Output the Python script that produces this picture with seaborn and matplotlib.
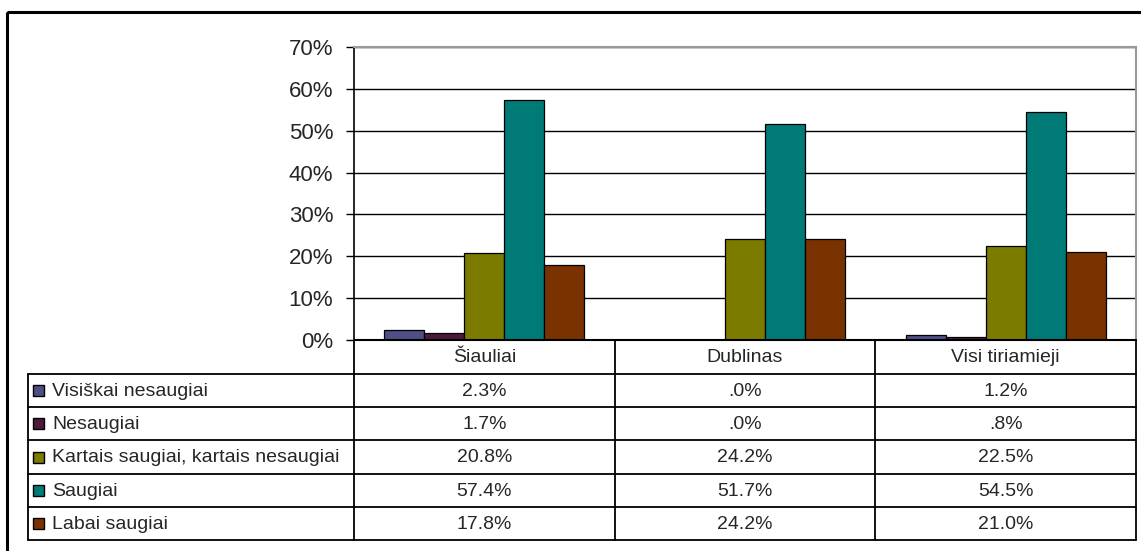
import pandas as pd
import numpy as np
import matplotlib
matplotlib.use('Agg')
import matplotlib.pyplot as plt
from matplotlib.patches import Rectangle
import seaborn as sns

# data
vietos = ['Šiauliai', 'Dublinas', 'Visi tiriamieji']
atsakymai = ['Visiškai nesaugiai', 'Nesaugiai', 'Kartais saugiai, kartais nesaugiai',
             'Saugiai', 'Labai saugiai']
visiskai_nesaugiai = [2.3, 0.0, 1.2]
nesaugiai = [1.7, 0.0, 0.8]
kartais = [20.8, 24.2, 22.5]
saugiai = [57.4, 51.7, 54.5]
labai_saugiai = [17.8, 24.2, 21.0]
spalvos = ['#4f4f86', '#4d1a3a', '#7b7b00', '#007a77', '#7a3200']
y_ticks = [0, 10, 20, 30, 40, 50, 60, 70]

series = [visiskai_nesaugiai, nesaugiai, kartais, saugiai, labai_saugiai]
rows = []
for ats, vals in zip(atsakymai, series):
    for v, val in zip(vietos, vals):
        rows.append({'vieta': v, 'atsakymas': ats, 'proc': val})
df = pd.DataFrame(rows)

sns.set_style('white')
plt.rcParams['font.family'] = ['Liberation Sans', 'DejaVu Sans']

W, H = 1141, 551
fig = plt.figure(figsize=(W / 100, H / 100), dpi=100)

# plot area in pixels
px_l, px_r, px_t, px_b = 354, 1136, 47, 340
ax = fig.add_axes([px_l / W, 1 - px_b / H, (px_r - px_l) / W, (px_b - px_t) / H])

sns.barplot(data=df, x='vieta', y='proc', hue='atsakymas', hue_order=atsakymai,
            order=vietos, palette=spalvos, saturation=1, width=0.767,
            edgecolor='black', linewidth=0.9, legend=False, ax=ax, zorder=3)

ax.set_ylim(0, 70)
ax.set_xlim(-0.5, len(vietos) - 0.5)
ax.set_yticks(y_ticks)
ax.set_yticklabels([f'{t}%' for t in y_ticks], fontsize=16)
ax.set_xticks([])
ax.set_xlabel('')
ax.set_ylabel('')
ax.yaxis.grid(True, color='black', linewidth=1, zorder=0)
ax.set_axisbelow(True)
ax.tick_params(axis='y', direction='out', length=6, width=1, color='black', pad=9,
               left=True)
ax.spines['left'].set_color('black')
ax.spines['left'].set_linewidth(1.2)
ax.spines['top'].set_color('#999999')
ax.spines['right'].set_color('#999999')
ax.spines['top'].set_linewidth(1.5)
ax.spines['right'].set_linewidth(1.5)
ax.spines['bottom'].set_visible(False)

# overlay in pixel coordinates for the data table and frame
ov = fig.add_axes([0, 0, 1, 1], zorder=5)
ov.set_xlim(0, W)
ov.set_ylim(H, 0)
ov.axis('off')

def fmt(v):
    s = f'{v:.1f}%'
    if s.startswith('0'):
        s = s[1:]
    return s

lc = 'black'
tab_l = 28
head_t, head_b = 340, 374
tab_b = 540
n = len(atsakymai)
row_h = (tab_b - head_b) / n
col_w = (px_r - px_l) / len(vietos)
fs = 14

# header row
ov.plot([px_l, px_r], [head_t, head_t], color=lc, lw=1.5)
for j, v in enumerate(vietos):
    ov.text(px_l + col_w * (j + 0.5), (head_t + head_b) / 2 + 1, v,
            ha='center', va='center', fontsize=fs)
# horizontal lines
for i in range(n + 1):
    y = head_b + i * row_h
    ov.plot([tab_l, px_r], [y, y], color=lc, lw=1.3)
# vertical lines
ov.plot([tab_l, tab_l], [head_b, tab_b], color=lc, lw=1.3)
for j in range(len(vietos) + 1):
    x = px_l + j * col_w
    ov.plot([x, x], [head_t, tab_b], color=lc, lw=1.3)

for i, (ats, vals, c) in enumerate(zip(atsakymai, series, spalvos)):
    yc = head_b + (i + 0.5) * row_h
    ov.add_patch(Rectangle((33, yc - 5.5), 11, 11, facecolor=c, edgecolor='black', lw=1))
    ov.text(52, yc + 1, ats, ha='left', va='center', fontsize=fs)
    for j, val in enumerate(vals):
        ov.text(px_l + col_w * (j + 0.5), yc + 1, fmt(val), ha='center', va='center',
                fontsize=fs)

# outer chart frame
ov.add_patch(Rectangle((7, 12), W, H, fill=False, edgecolor='black', lw=2.2))

fig.savefig('out.png', dpi=100)
